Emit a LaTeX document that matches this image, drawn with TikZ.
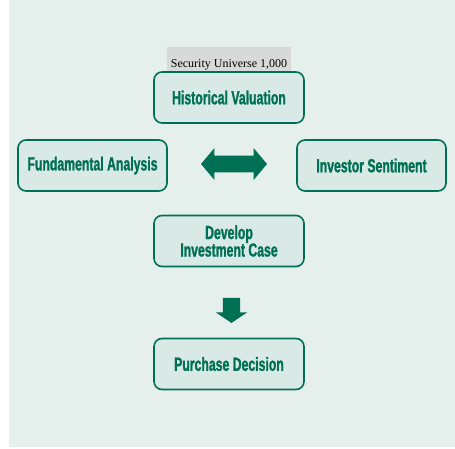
\documentclass[tikz,border=0pt]{standalone}
\usepackage{fontspec}
\usetikzlibrary{shapes}
\usetikzlibrary{shapes.arrows}

\newfontfamily\boxfont[FakeStretch=0.645,FakeBold=1.2]{Liberation Sans}
\newfontfamily\tagfont{Liberation Serif}

\definecolor{bgmint}{RGB}{229,239,236}
\definecolor{boxmint}{RGB}{217,233,229}
\definecolor{dkgreen}{RGB}{0,112,84}
\definecolor{taggray}{RGB}{216,218,218}

\tikzset{
  stepbox/.style={rectangle,rounded corners=8pt,draw=dkgreen,line width=1.6pt,
    fill=boxmint,minimum width=150pt,minimum height=51pt,align=center,
    text=dkgreen,font=\boxfont\bfseries\fontsize{19}{17.5}\selectfont},
}

\begin{document}
\begin{tikzpicture}[x=1pt,y=-1pt]
\useasboundingbox (0,0) rectangle (455,448);
\fill[bgmint] (9,0) rectangle (455,447);

\path (229,65) node[rectangle,fill=taggray,minimum width=124pt,minimum height=36pt,inner sep=0pt,font=\tagfont\fontsize{12}{12}\selectfont](universe) {Security Universe 1,000}
(229,97.5) node[stepbox](hist) {Historical Valuation}
(92.5,165.5) node[stepbox,minimum width=149pt](fund) {Fundamental Analysis}
(371.5,165.5) node[stepbox,minimum width=149pt](sent) {Investor Sentiment}
(229,241) node[stepbox](case) {Develop\\Investment Case}
(229,364) node[stepbox](buy) {Purchase Decision}
(234,164) node[double arrow,fill=dkgreen,minimum height=66pt,minimum width=32pt,inner sep=7.5pt,double arrow tip angle=100](swap) {}
(231.5,307.5) node[single arrow,rotate=-90,fill=dkgreen,minimum height=25pt,minimum width=30pt,inner sep=8.5pt,single arrow tip angle=112](down) {}
;

\end{tikzpicture}
\end{document}
